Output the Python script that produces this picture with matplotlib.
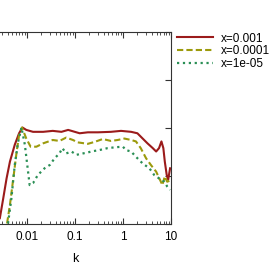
import numpy as np
import matplotlib
matplotlib.use("Agg")
import matplotlib.pyplot as plt
from matplotlib.ticker import LogLocator, NullFormatter, FixedLocator

plt.rcParams['font.family'] = ['Liberation Sans', 'DejaVu Sans']

# log10(k) and values
red_logk = [-2.56, -2.49, -2.42, -2.35, -2.25, -2.16, -2.09, -2.01, -1.87, -1.66,
            -1.46, -1.28, -1.14, -1.07, -0.90, -0.73, -0.52, -0.25, -0.04, 0.17,
            0.30, 0.41, 0.51, 0.62, 0.69, 0.75, 0.80, 0.84, 0.87, 0.91, 0.94, 0.98]
red_val = [0.12, 0.53, 0.95, 1.30, 1.65, 1.89, 2.01, 1.96, 1.92, 1.92,
           1.94, 1.92, 1.96, 1.94, 1.89, 1.91, 1.91, 1.92, 1.94, 1.92,
           1.89, 1.78, 1.68, 1.58, 1.51, 1.58, 1.72, 1.58, 1.30, 1.02, 0.92, 1.16]

olive_logk = [-2.41, -2.35, -2.28, -2.21, -2.16, -2.10, -2.01, -1.92, -1.80, -1.66,
              -1.46, -1.32, -1.18, -1.04, -0.94, -0.73, -0.59, -0.42, -0.25, -0.11,
              0.03, 0.17, 0.27, 0.37, 0.48, 0.58, 0.69, 0.77, 0.82, 0.87, 0.92, 0.97]
olive_val = [0.01, 0.40, 0.95, 1.51, 1.85, 2.01, 1.78, 1.61, 1.61, 1.68,
             1.75, 1.73, 1.80, 1.75, 1.70, 1.67, 1.71, 1.77, 1.73, 1.75,
             1.78, 1.75, 1.72, 1.58, 1.37, 1.23, 1.09, 0.92, 0.81, 0.99, 0.88, 0.90]

green_logk = [-2.39, -2.32, -2.25, -2.18, -2.11, -2.04, -1.99, -1.94, -1.87, -1.77,
              -1.63, -1.52, -1.42, -1.32, -1.26, -1.18, -1.07, -0.97, -0.83, -0.73,
              -0.66, -0.49, -0.32, -0.14, 0.0, 0.06, 0.17, 0.27, 0.41, 0.55,
              0.65, 0.75, 0.86, 0.92, 0.98]
green_val = [0.01, 0.53, 1.23, 1.71, 2.01, 1.65, 1.23, 0.81, 0.85, 1.02,
             1.16, 1.23, 1.37, 1.47, 1.58, 1.47, 1.51, 1.44, 1.47, 1.49,
             1.51, 1.54, 1.58, 1.60, 1.61, 1.54, 1.51, 1.40, 1.26, 1.16,
             1.02, 0.95, 0.88, 0.78, 0.71]

labels = ["x=0.001", "x=0.0001", "x=1e-05"]
xtick_vals = [1e-3, 1e-2, 1e-1, 1, 10]
xtick_labels = ["", "0.01", "0.1", "1", "10"]

fig = plt.figure(figsize=(2.75, 2.65), dpi=100)
ax = fig.add_axes([-0.0775, 0.155, 0.6995, 0.724])

ax.plot(10 ** np.array(red_logk), red_val, '-', color='#9b1b1b', lw=1.5, label=labels[0])
ax.plot(10 ** np.array(olive_logk), olive_val, '--', color='#9c9a0c', lw=1.5,
        dashes=(3, 1.5), label=labels[1])
ax.plot(10 ** np.array(green_logk), green_val, ':', color='#2a8f55', lw=1.6, label=labels[2])

ax.set_xscale('log')
ax.set_xlim(1e-3, 10)
ax.set_ylim(0, 4)
ax.set_xticks(xtick_vals)
ax.set_xticklabels(xtick_labels)
ax.xaxis.set_minor_locator(LogLocator(base=10, subs=np.arange(2, 10)))
ax.xaxis.set_minor_formatter(NullFormatter())
ax.yaxis.set_major_locator(FixedLocator([0, 1, 2, 3, 4]))
ax.tick_params(which='both', direction='in', top=True, right=True, labelsize=8.5,
               colors='#333333', labelcolor='black')
ax.tick_params(which='major', length=4.5)
ax.tick_params(which='minor', length=2.5)
ax.tick_params(axis='x', pad=5)
ax.tick_params(axis='y', labelleft=False)
for s in ax.spines.values():
    s.set_color('#333333')
    s.set_linewidth(0.8)
ax.set_xlabel("k", fontsize=9, labelpad=7)

ax.legend(loc='upper left', bbox_to_anchor=(0.645, 0.877), bbox_transform=fig.transFigure,
          frameon=False, fontsize=8.5, handlelength=3.0, handletextpad=0.7,
          labelspacing=0.05, borderaxespad=0, borderpad=0)

fig.savefig("out.png", dpi=100)
